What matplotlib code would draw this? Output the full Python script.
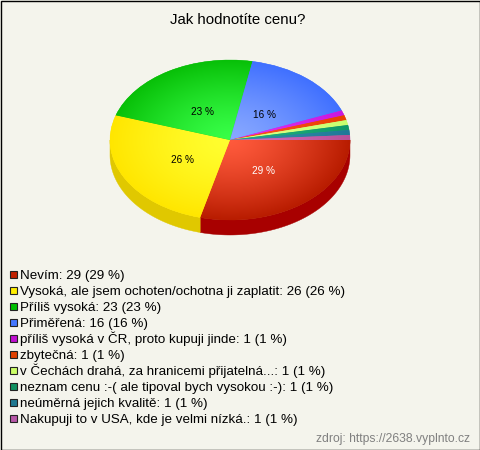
import numpy as np
import matplotlib
matplotlib.use("Agg")
import matplotlib.pyplot as plt
from matplotlib.patches import Wedge, Polygon, Rectangle
from matplotlib.transforms import Affine2D

plt.rcParams['font.family'] = ['Liberation Sans', 'DejaVu Sans']

title = "Jak hodnotíte cenu?"
source = "zdroj: https://2638.vyplnto.cz"
labels = ["Nevím", "Vysoká, ale jsem ochoten/ochotna ji zaplatit", "Příliš vysoká", "Přiměřená",
          "příliš vysoká v ČR, proto kupuji jinde", "zbytečná",
          "v Čechách drahá, za hranicemi přijatelná...", "neznam cenu :-( ale tipoval bych vysokou :-)",
          "neúměrná jejich kvalitě", "Nakupuji to v USA, kde je velmi nízká."]
values = [29, 26, 23, 16, 1, 1, 1, 1, 1, 1]

# barvy: legenda, stred gradientu, okraj, bocni stena
legend_colors = ["#c02000", "#ffee00", "#00c000", "#4477ff", "#c010d0", "#e04000", "#ccff66", "#109060", "#207890", "#b858a8"]
inner_colors = ["#ff5a3c", "#ffff30", "#38ff48", "#88a8ff", "#e030f0", "#ff5020", "#ddff88", "#20b080", "#3090a8", "#d070c0"]
outer_colors = ["#b81c00", "#ffe600", "#08c008", "#4070ff", "#c818e0", "#e84000", "#c8ff70", "#109868", "#207898", "#b85098"]
side_colors = ["#a80000", "#e0c800"]

bg = "#f4f4ec"
cx, cy, rx, ry, depth = 230, 140, 120, 80, 15

fig = plt.figure(figsize=(4.8, 4.5), dpi=100, facecolor=bg)
ax = fig.add_axes([0, 0, 1, 1])
ax.set_xlim(0, 480)
ax.set_ylim(450, 0)
ax.axis("off")

ax.add_patch(Rectangle((0.5, 0.5), 479, 449, fill=False, edgecolor="black", lw=1))

total = sum(values)
ends = np.cumsum(values) / total * 360
starts = np.concatenate([[0], ends[:-1]])
pie_tr = Affine2D().scale(rx, ry).translate(cx, cy) + ax.transData


def to_rgb(c):
    return np.array(matplotlib.colors.to_rgb(c))


# bocni stena - jen spodni polovina
for i in range(len(values)):
    a0, a1 = starts[i], min(ends[i], 180)
    if a0 >= 180:
        continue
    t = np.radians(np.linspace(a0, a1, 80))
    x = cx + rx * np.cos(t)
    y = cy + ry * np.sin(t)
    pts = np.vstack([np.column_stack([x, y]), np.column_stack([x[::-1], y[::-1] + depth])])
    ax.add_patch(Polygon(pts, closed=True, facecolor=side_colors[i], edgecolor=side_colors[i], lw=0.3))

# horni plocha s radialnim gradientem
px = np.linspace(cx - rx, cx + rx, 480)
py = np.linspace(cy - ry, cy + ry, 320)
gx, gy = np.meshgrid(px, py)
r = np.clip(np.sqrt(((gx - cx) / rx) ** 2 + ((gy - cy) / ry) ** 2), 0, 1)[..., None] ** 1.3
for i in range(len(values)):
    ax.add_patch(Wedge((0, 0), 1, starts[i], ends[i], transform=pie_tr, facecolor=outer_colors[i],
                       edgecolor=outer_colors[i], lw=0.3))
    img = to_rgb(inner_colors[i]) * (1 - r) + to_rgb(outer_colors[i]) * r
    im = ax.imshow(img, extent=(cx - rx, cx + rx, cy + ry, cy - ry), aspect="auto", interpolation="bilinear", zorder=2)
    im.set_clip_path(Wedge((0, 0), 1, starts[i], ends[i], transform=pie_tr))

ax.set_xlim(0, 480)
ax.set_ylim(450, 0)

# procenta v kolacich
for i in range(len(values)):
    if values[i] < 5:
        continue
    mid = np.radians((starts[i] + ends[i]) / 2)
    color = "white" if i == 0 else "black"
    ax.text(cx + 0.45 * rx * np.cos(mid), cy + 0.45 * ry * np.sin(mid) + 3, "%d %%" % values[i],
            fontsize=7.2, color=color, ha="center", va="center", zorder=3)

ax.text(238, 24, title, fontsize=10.8, ha="center", va="baseline", color="black")

for i in range(len(values)):
    y = 274 + i * 16
    ax.add_patch(Rectangle((9.5, y - 3.5), 7, 7, facecolor=legend_colors[i], edgecolor="#222222", lw=0.8))
    ax.text(20, y + 5, "%s: %d (%d %%)" % (labels[i], values[i], round(values[i] / total * 100)),
            fontsize=9.6, ha="left", va="baseline", color="black")

ax.text(470, 442, source, fontsize=8.75, ha="right", va="baseline", color="#808080")

fig.savefig("out.png", dpi=100, facecolor=bg)
